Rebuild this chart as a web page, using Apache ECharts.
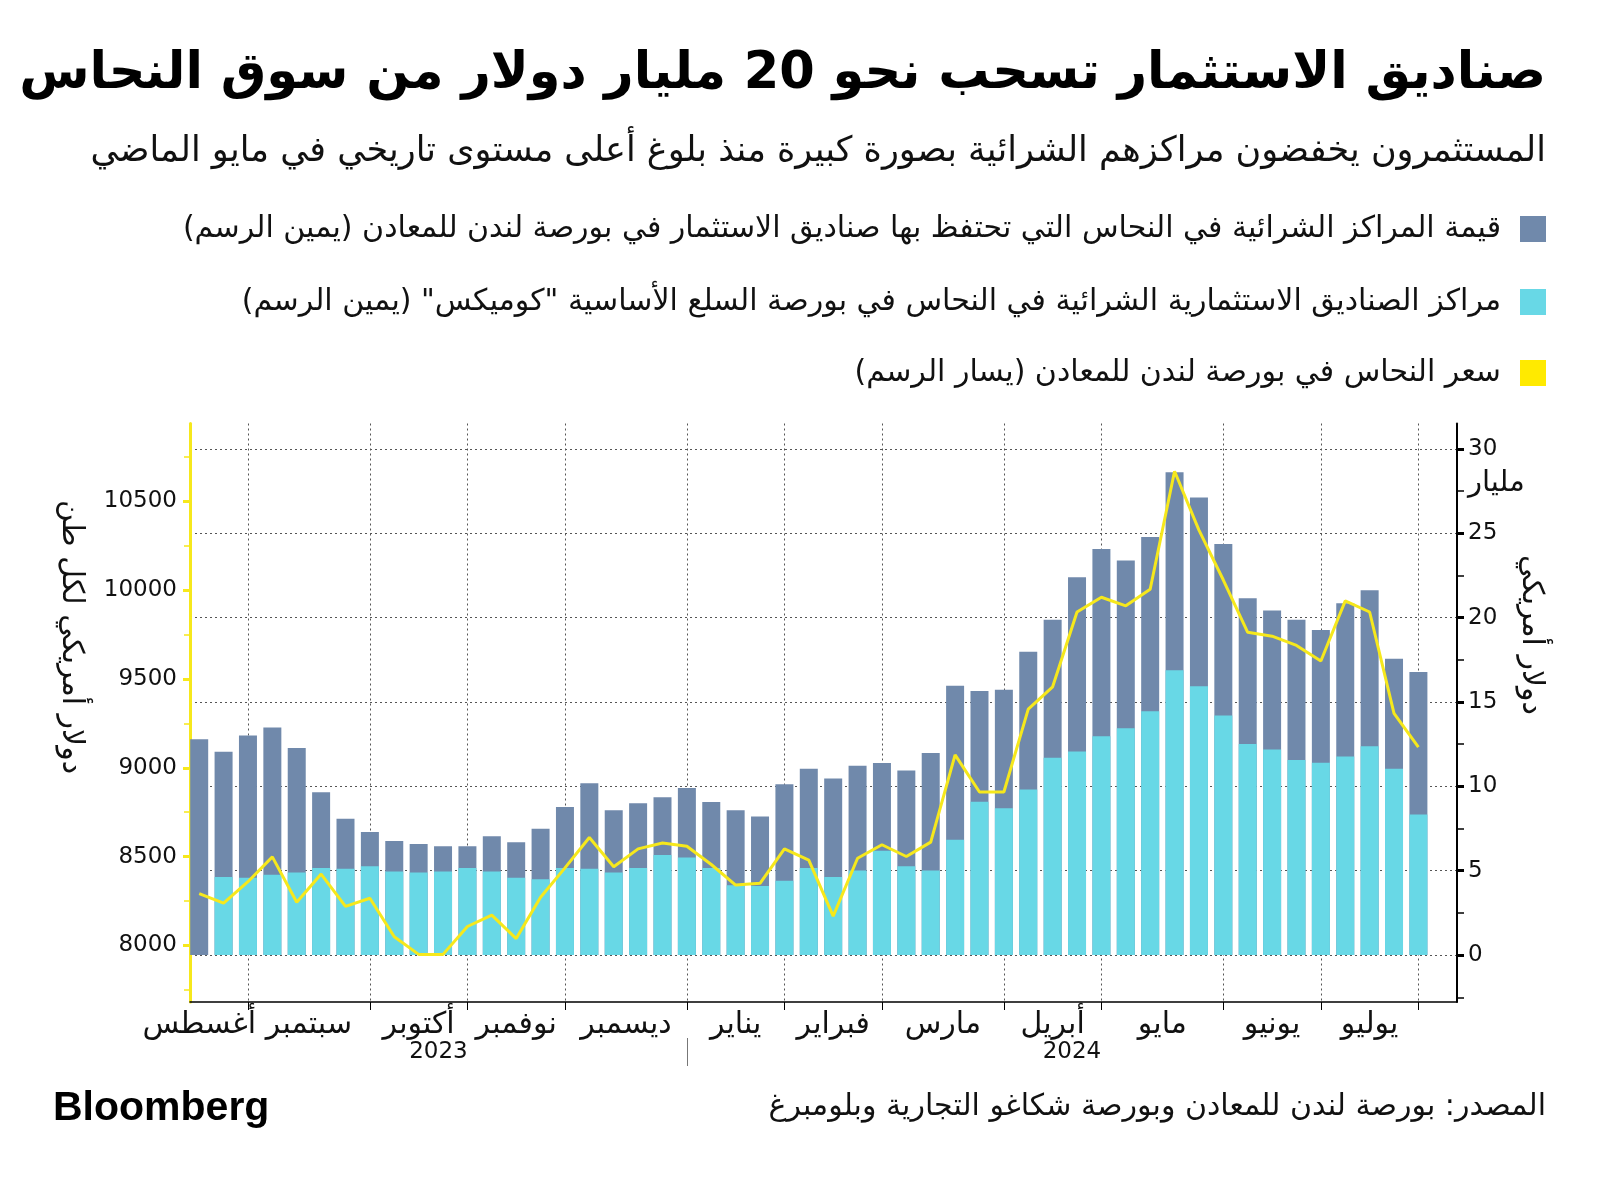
<!DOCTYPE html>
<html dir="rtl">
<head>
<meta charset="utf-8">
<script src="https://cdn.jsdelivr.net/npm/echarts@6/dist/echarts.min.js"></script>
<style>
html,body{margin:0;padding:0;background:#fff;}
#c{width:1600px;height:1185px;position:absolute;left:0;top:0;}
</style>
</head>
<body>
<div id="c" dir="rtl"></div>
<script>
// ---------- DATA ----------
const dates = [
 '2023-08-11','2023-08-18','2023-08-25','2023-09-01','2023-09-08','2023-09-15','2023-09-22','2023-09-29',
 '2023-10-06','2023-10-13','2023-10-20','2023-10-27','2023-11-03','2023-11-10','2023-11-17','2023-11-24',
 '2023-12-01','2023-12-08','2023-12-15','2023-12-22','2023-12-29','2024-01-05','2024-01-12','2024-01-19',
 '2024-01-26','2024-02-02','2024-02-09','2024-02-16','2024-02-23','2024-03-01','2024-03-08','2024-03-15',
 '2024-03-22','2024-03-29','2024-04-05','2024-04-12','2024-04-19','2024-04-26','2024-05-03','2024-05-10',
 '2024-05-17','2024-05-24','2024-05-31','2024-06-07','2024-06-14','2024-06-21','2024-06-28','2024-07-05',
 '2024-07-12','2024-07-19','2024-07-26'
];
// LME copper price, USD per tonne (left axis)
const price = [8292,8239,8359,8499,8243,8402,8220,8266,8049,7950,
 7950,8107,8171,8039,8272,8437,8608,8443,8544,8577,
 8559,8456,8340,8350,8544,8480,8165,8491,8567,8501,
 8582,9073,8864,8864,9330,9456,9877,9960,9912,10005,
 10669,10338,10057,9763,9741,9689,9601,9940,9877,9306,9116];
// COMEX fund long positions, USD bn (right axis)
const comex = [null,4.63,4.59,4.76,4.90,5.16,5.12,5.27,4.96,4.90,
 4.96,5.16,4.96,4.59,4.49,5.16,5.12,4.90,5.16,5.94,
 5.78,5.16,4.14,4.10,4.41,5.16,4.63,5.02,6.19,5.27,
 5.02,6.84,9.09,8.70,9.82,11.70,12.07,12.97,13.44,14.46,
 16.88,15.94,14.20,12.52,12.18,11.56,11.40,11.77,12.38,11.05,8.34];
// LME fund long positions, USD bn (right axis), shown stacked above COMEX
const lme = [12.80,7.43,8.43,8.73,7.37,4.49,2.96,2.02,1.80,1.69,
 1.49,1.29,2.08,2.10,3.00,3.62,5.06,3.69,3.84,3.41,
 4.12,3.92,4.45,4.12,5.71,5.88,5.84,6.20,5.20,5.67,
 6.96,9.12,6.56,7.03,8.16,8.18,10.32,11.10,9.95,10.32,
 11.74,11.19,10.17,8.63,8.25,8.32,7.87,9.09,9.24,6.52,8.44];

const monthNames = ['يناير','فبراير','مارس','أبريل','مايو','يونيو','يوليو','أغسطس','سبتمبر','أكتوبر','نوفمبر','ديسمبر'];
const leftTicks = [8000,8500,9000,9500,10000,10500];
const leftMinor = [7750,8250,8750,9250,9750,10250,10750];
const rightTicks = [0,5,10,15,20,25,30];
const rightMinor = [-2.5,2.5,7.5,12.5,17.5,22.5,27.5];
const unitTick = 27.5;
const unitLabel = 'مليار';
const seriesNames = [
 'قيمة المراكز الشرائية في النحاس التي تحتفظ بها صناديق الاستثمار في بورصة لندن للمعادن (يمين الرسم)',
 'مراكز الصناديق الاستثمارية الشرائية في النحاس في بورصة السلع الأساسية "كوميكس" (يمين الرسم)',
 'سعر النحاس في بورصة لندن للمعادن (يسار الرسم)'
];
const titleText = 'صناديق الاستثمار تسحب نحو 20 مليار دولار من سوق النحاس';
const subtitleText = 'المستثمرون يخفضون مراكزهم الشرائية بصورة كبيرة منذ بلوغ أعلى مستوى تاريخي في مايو الماضي';
const sourceText = 'المصدر: بورصة لندن للمعادن وبورصة شكاغو التجارية وبلومبرغ';
const leftName = 'دولار أمريكي لكل طن';
const rightName = 'دولار أمريكي';
const axisStart = '2023-08-08', axisEnd = '2024-08-06';

// ---------- helpers ----------
const DAY = 864e5;
function t(s){const p=s.split('-');return new Date(+p[0],+p[1]-1,+p[2]).getTime();}
const ts = dates.map(t);
const xMin = t(axisStart) + 0.36*DAY, xMax = t(axisEnd) + 0.08*DAY;
const monthEnds = [];
for (let i=0;i<ts.length;i++){
  const m = new Date(ts[i]).getMonth();
  if (i===ts.length-1 || new Date(ts[i+1]).getMonth()!==m) monthEnds.push(ts[i]);
}
const monthMids = monthEnds.map((v,i)=> (v + (i===0 ? v-28*DAY : monthEnds[i-1]))/2);
const monthLabelOf = v => { let best=0; monthMids.forEach((m,i)=>{ if(Math.abs(m-v)<Math.abs(monthMids[best]-v)) best=i; }); return monthNames[new Date(monthEnds[best]).getMonth()]; };
const yearSep = monthEnds.find(v => new Date(v).getMonth()===11);
const yearMids = [(xMin+yearSep)/2, (yearSep+xMax)/2];
const yearOf = v => String(new Date(v < yearSep ? xMin : xMax).getFullYear());
// stacked top of the LME segment (LME sits on top of COMEX)
const lmeTop = lme.map((v,i)=> +(v + (comex[i] || 0)).toFixed(2));

const F = 'DejaVu Sans';
const C_LME = '#7089ab', C_CMX = '#68d8e6', C_PX = '#f6e81c', C_PXL = '#ffea00';

const chart = echarts.init(document.getElementById('c'), null, {renderer:'canvas'});
const gridDot = {type:[2,3], color:'#555', width:1};

const legendBase = {
  orient:'vertical', right:54, align:'right', icon:'rect', itemWidth:26, itemHeight:26, padding:0,
  textStyle:{fontFamily:F, fontSize:30, color:'#111', lineHeight:26, padding:[0,14,0,0]},
  selectedMode:false
};

chart.setOption({
  animation:false,
  textStyle:{fontFamily:F},
  grid:{left:190, right:143, top:423.5, bottom:183, containLabel:false},
  legend:[
    Object.assign({}, legendBase, {top:214, data:[seriesNames[0]]}),
    Object.assign({}, legendBase, {top:287, data:[seriesNames[1]]}),
    Object.assign({}, legendBase, {top:358, data:[{name:seriesNames[2], itemStyle:{color:C_PXL}}]})
  ],
  xAxis:[
    {type:'value', min:xMin, max:xMax, position:'bottom', scale:true,
     axisLine:{show:true, onZero:false, lineStyle:{color:'#000', width:1.5}},
     axisTick:{show:true, customValues:monthEnds, length:8, lineStyle:{color:'#000', width:1}},
     axisLabel:{show:true, customValues:monthMids, formatter:v=>monthLabelOf(v), fontSize:30, color:'#111', margin:8, fontFamily:F},
     splitLine:{show:true, lineStyle:gridDot}},
    {type:'value', min:xMin, max:xMax, position:'bottom', offset:36, scale:true,
     axisLine:{show:false, onZero:false},
     axisTick:{show:true, customValues:[yearSep], length:28, lineStyle:{color:'#777', width:1}},
     axisLabel:{show:true, customValues:yearMids, formatter:v=>yearOf(v), fontSize:23, color:'#111', margin:3, fontFamily:F},
     splitLine:{show:false}}
  ],
  yAxis:[
    {type:'value', position:'left', min:7682, max:10938,
     axisLine:{show:true, onZero:false, lineStyle:{color:C_PX, width:3}},
     axisTick:{show:true, customValues:leftTicks, length:7, lineStyle:{color:C_PX, width:3}},
     axisLabel:{show:true, customValues:leftTicks, formatter:v=>String(v), fontSize:23, color:'#111', margin:13, fontFamily:F},
     splitLine:{show:false}},
    {type:'value', position:'left', min:7682, max:10938,
     axisLine:{show:false, onZero:false},
     axisTick:{show:true, customValues:leftMinor, length:6, lineStyle:{color:C_PX, width:1.5}},
     axisLabel:{show:false}, splitLine:{show:false}},
    {type:'value', position:'right', min:-2.78, max:31.51,
     axisLine:{show:true, onZero:false, lineStyle:{color:'#000', width:2}},
     axisTick:{show:true, customValues:rightTicks, length:7, lineStyle:{color:'#000', width:3}},
     axisLabel:{show:true, customValues:rightTicks.concat([unitTick]),
       formatter:v=> v===unitTick ? '{u|'+unitLabel+'}' : String(v),
       rich:{u:{fontFamily:F, fontSize:29, color:'#111', padding:[0,0,16,0]}},
       fontSize:23, color:'#111', margin:11, fontFamily:F},
     splitLine:{show:true, lineStyle:gridDot}},
    {type:'value', position:'right', min:-2.78, max:31.51,
     axisLine:{show:false, onZero:false},
     axisTick:{show:true, customValues:rightMinor, length:7, lineStyle:{color:'#000', width:1.5}},
     axisLabel:{show:false}, splitLine:{show:false}}
  ],
  series:[
    {name:seriesNames[0], type:'bar', yAxisIndex:2, xAxisIndex:0, barWidth:18, barGap:'-100%', z:2,
     itemStyle:{color:C_LME}, data:ts.map((x,i)=>[x, lmeTop[i]])},
    {name:seriesNames[1], type:'bar', yAxisIndex:2, xAxisIndex:0, barWidth:18, barGap:'-100%', z:3,
     itemStyle:{color:C_CMX}, data:ts.map((x,i)=>[x, comex[i]])},
    {name:seriesNames[2], type:'line', yAxisIndex:0, xAxisIndex:0, symbol:'none', z:5,
     itemStyle:{color:C_PXL}, lineStyle:{color:C_PX, width:3}, data:ts.map((x,i)=>[x, price[i]])}
  ],
  graphic:[
    {type:'text', right:54, top:49, style:{text:titleText, font:'bold 51px "DejaVu Sans"', fill:'#000'}},
    {type:'text', right:54, top:134, style:{text:subtitleText, font:'35px "DejaVu Sans"', fill:'#111'}},
    {type:'text', right:54, top:1092, style:{text:sourceText, font:'30px "DejaVu Sans"', fill:'#111'}},
    {type:'text', left:53, top:1088, style:{text:'Bloomberg', font:'bold 41px "Liberation Sans"', fill:'#000'}},
    {type:'text', x:71, y:637, rotation:-Math.PI/2, style:{text:leftName, font:'30px "DejaVu Sans"', fill:'#111', align:'center', verticalAlign:'middle'}},
    {type:'text', x:1531, y:635, rotation:-Math.PI/2, style:{text:rightName, font:'30px "DejaVu Sans"', fill:'#111', align:'center', verticalAlign:'middle'}}
  ]
});
</script>
</body>
</html>
